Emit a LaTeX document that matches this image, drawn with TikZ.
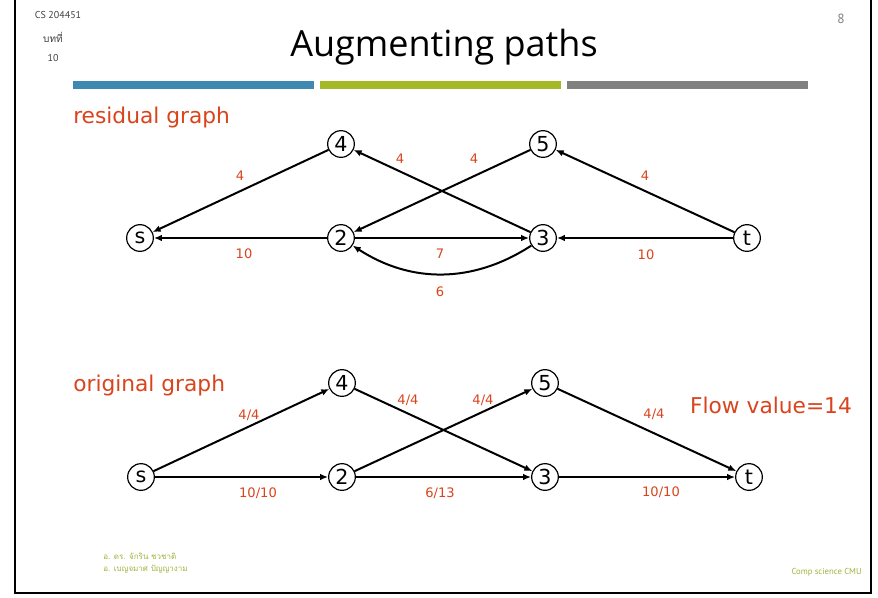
\documentclass[tikz,border=0pt]{standalone}
\usepackage{fontspec}
\setmainfont{DejaVu Sans}
\newfontfamily\titlefont{Open Sans}
\newfontfamily\smallfont{PT Sans}
\newfontfamily\thaifont[Script=Thai]{Loma}
\usetikzlibrary{arrows.meta}
\definecolor{lab}{HTML}{D9441C}
\definecolor{bblue}{HTML}{3E88B1}
\definecolor{bgreen}{HTML}{A5B826}
\definecolor{bgray}{HTML}{808080}
\definecolor{foot}{HTML}{9DB53B}
\begin{document}
\begin{tikzpicture}[x=0.75pt,y=-0.75pt,
  vtx/.style={circle,draw,fill=white,line width=0.9pt,minimum size=20pt,inner sep=0pt,font=\fontsize{15.5}{15.5}\selectfont},
  edge/.style={line width=1.5pt,-{Latex[length=6pt,width=5pt]}},
  lbl/.style={text=lab,font=\fontsize{9.8}{12}\selectfont,inner sep=0pt},
  head/.style={text=lab,font=\fontsize{16.3}{18}\selectfont,inner sep=0pt,anchor=west},
  bar/.style={line width=0pt}]
\useasboundingbox (0,0) rectangle (878,597);
\fill[white] (0,0) rectangle (878,597);
% frame
\draw[line width=1.5pt] (15,0) -- (15,593) -- (871,593) -- (871,0);
% header
\node[text=black!75,font=\smallfont\fontsize{7.5}{8}\selectfont,inner sep=0pt] (course) at (58,15) {CS 204451};
\node[text=black!75,font=\thaifont\fontsize{7.5}{8}\selectfont,inner sep=0pt] (chap) at (53,37) {บทที่};
\node[text=black!75,font=\smallfont\fontsize{7.5}{8}\selectfont,inner sep=0pt] (chapno) at (53,58) {10};
\node[text=black!50,font=\smallfont\fontsize{10}{10}\selectfont,inner sep=0pt] (page) at (841,19) {8};
\node[font=\titlefont\fontsize{27}{30}\selectfont,inner sep=0pt] (title) at (444,47) {Augmenting paths};
\fill[bblue] (73,81) rectangle (314,89);
\fill[bgreen] (320,81) rectangle (561,89);
\fill[bgray] (567,81) rectangle (808,89);
% residual graph
\node[head] (rh) at (73,117) {residual graph};
\node[vtx] (s) at (140,238) {s};
\node[vtx] (a4) at (341,144) {4};
\node[vtx] (a2) at (341,238) {2};
\node[vtx] (a5) at (543,144) {5};
\node[vtx] (a3) at (543,238) {3};
\node[vtx] (t) at (747,238) {t};
\draw[edge] (a4) -- (s);
\draw[edge] (a2) -- (s);
\draw[edge] (a3) -- (a4);
\draw[edge] (a5) -- (a2);
\draw[edge] (a2) -- (a3);
\draw[edge] (a3) to[bend left=33] (a2);
\draw[edge] (t) -- (a5);
\draw[edge] (t) -- (a3);
\node[lbl] (l1) at (240,176) {4};
\node[lbl] (l2) at (244,254) {10};
\node[lbl] (l3) at (400,159) {4};
\node[lbl] (l4) at (474,159) {4};
\node[lbl] (l5) at (440,254) {7};
\node[lbl] (l6) at (440,292) {6};
\node[lbl] (l7) at (645,176) {4};
\node[lbl] (l8) at (646,255) {10};
% original graph
\node[head] (oh) at (73,385) {original graph};
\node[vtx] (os) at (141,477) {s};
\node[vtx] (o4) at (342,383) {4};
\node[vtx] (o2) at (342,477) {2};
\node[vtx] (o5) at (545,383) {5};
\node[vtx] (o3) at (545,477) {3};
\node[vtx] (ot) at (749,477) {t};
\draw[edge] (os) -- (o4);
\draw[edge] (os) -- (o2);
\draw[edge] (o4) -- (o3);
\draw[edge] (o2) -- (o5);
\draw[edge] (o2) -- (o3);
\draw[edge] (o5) -- (ot);
\draw[edge] (o3) -- (ot);
\node[lbl] (m1) at (249,415) {4/4};
\node[lbl] (m2) at (258,493) {10/10};
\node[lbl] (m3) at (408,400) {4/4};
\node[lbl] (m4) at (483,400) {4/4};
\node[lbl] (m5) at (440,493) {6/13};
\node[lbl] (m6) at (654,414) {4/4};
\node[lbl] (m7) at (661,492) {10/10};
\node[head,anchor=center] (fv) at (771,405) {Flow value=14};
% footer
\node[text=foot,font=\thaifont\fontsize{6}{7}\selectfont,inner sep=0pt,anchor=west] (f1) at (103,556) {อ. ดร. จักริน ชวชาติ};
\node[text=foot,font=\thaifont\fontsize{6}{7}\selectfont,inner sep=0pt,anchor=west] (f2) at (103,569) {อ. เบญจมาศ ปัญญางาม};
\node[text=foot,font=\smallfont\fontsize{6.5}{7}\selectfont,inner sep=0pt,anchor=east] (f3) at (862,572) {Comp science CMU};
\end{tikzpicture}
\end{document}
